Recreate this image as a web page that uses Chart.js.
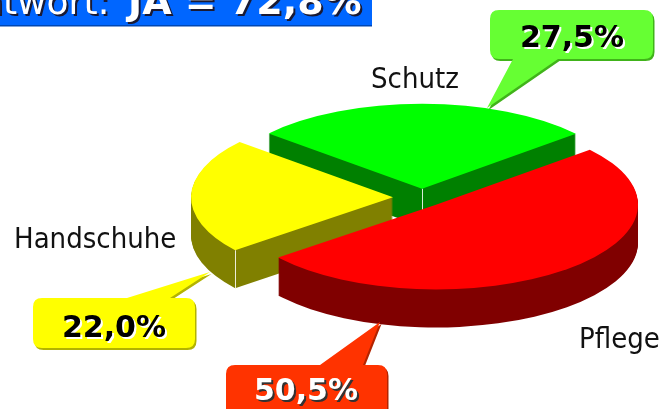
<!DOCTYPE html>
<html>
<head>
<meta charset="utf-8">
<script src="https://cdn.jsdelivr.net/npm/chart.js@4.4.1/dist/chart.umd.min.js"></script>
<style>
    html, body { margin: 0; padding: 0; background: #fff; }
    #pieChart { display: block; }
</style>
</head>
<body>
<canvas id="pieChart" width="667" height="409"></canvas>
<script>
var categories = ['Pflege', 'Handschuhe', 'Schutz'];
var percentages = [50.5, 22.0, 27.5];
var valueLabels = ['50,5%', '22,0%', '27,5%'];
var headline = ['Antwort:', 'JA = 72,8%'];

var topColors = ['#ff0000', '#ffff00', '#00ff00'];
var sideColors = ['#800000', '#808000', '#008000'];

// 3D look: slices are exploded, squashed vertically and given a dark wall
var pie3d = {
    id: 'pie3d',
    afterDatasetsUpdate: function(chart, args, opts) {
        chart.getDatasetMeta(0).data.forEach(function(arc, i) {
            var mid = (arc.startAngle + arc.endAngle) / 2;
            arc.x += Math.cos(mid) * opts.explode[i];
            arc.y += Math.sin(mid) * opts.explode[i];
        });
    },
    beforeDatasetsDraw: function(chart, args, opts) {
        var ctx = chart.ctx;
        var area = chart.chartArea;
        var cy = (area.top + area.bottom) / 2;
        var arcs = chart.getDatasetMeta(0).data;
        for (var d = opts.depth; d > 0; d--) {
            arcs.forEach(function(arc, i) {
                ctx.save();
                ctx.translate(0, cy + d);
                ctx.scale(1, opts.tilt);
                ctx.translate(0, -cy);
                ctx.beginPath();
                ctx.moveTo(arc.x, arc.y);
                ctx.arc(arc.x, arc.y, arc.outerRadius, arc.startAngle, arc.endAngle);
                ctx.closePath();
                ctx.fillStyle = sideColors[i];
                ctx.fill();
                ctx.restore();
            });
        }
        // thin light edges where two walls meet
        ctx.strokeStyle = 'rgba(255,255,255,0.85)';
        ctx.lineWidth = 1;
        opts.edges.forEach(function(e) {
            var arc = arcs[e[0]];
            var px = arc.x, py = arc.y;
            if (e[1] !== 'apex') {
                var a = e[1] === 'start' ? arc.startAngle : arc.endAngle;
                px += Math.cos(a) * arc.outerRadius;
                py += Math.sin(a) * arc.outerRadius;
            }
            var sy = cy + (py - cy) * opts.tilt;
            ctx.beginPath();
            ctx.moveTo(Math.round(px) + 0.5, sy);
            ctx.lineTo(Math.round(px) + 0.5, sy + opts.depth);
            ctx.stroke();
        });
        ctx.save();
        ctx.translate(0, cy);
        ctx.scale(1, opts.tilt);
        ctx.translate(0, -cy);
    },
    afterDatasetsDraw: function(chart) {
        chart.ctx.restore();
    }
};

function shadowText(ctx, text, x, y, color, shadow) {
    ctx.fillStyle = shadow;
    ctx.fillText(text, x + 2, y + 2);
    ctx.fillStyle = color;
    ctx.fillText(text, x, y);
}

function calloutPath(ctx, c) {
    var r = 9, x = c.box[0], y = c.box[1], w = c.box[2], h = c.box[3];
    ctx.beginPath();
    ctx.moveTo(x + r, y);
    if (c.side === 'top') {
        ctx.lineTo(c.base[0], y);
        ctx.lineTo(c.tip[0], c.tip[1]);
        ctx.lineTo(c.base[1], y);
    }
    ctx.lineTo(x + w - r, y);
    ctx.quadraticCurveTo(x + w, y, x + w, y + r);
    ctx.lineTo(x + w, y + h - r);
    ctx.quadraticCurveTo(x + w, y + h, x + w - r, y + h);
    if (c.side === 'bottom') {
        ctx.lineTo(c.base[1], y + h);
        ctx.lineTo(c.tip[0], c.tip[1]);
        ctx.lineTo(c.base[0], y + h);
    }
    ctx.lineTo(x + r, y + h);
    ctx.quadraticCurveTo(x, y + h, x, y + h - r);
    ctx.lineTo(x, y + r);
    ctx.quadraticCurveTo(x, y, x + r, y);
    ctx.closePath();
}

var annotations = {
    id: 'annotations',
    afterDraw: function(chart, args, opts) {
        var ctx = chart.ctx;
        ctx.save();

        // headline banner, cropped at the left like the slide
        ctx.fillStyle = '#0066ff';
        ctx.fillRect(0, 0, 372, 25);
        ctx.fillStyle = '#0047b3';
        ctx.fillRect(0, 25, 372, 1.5);
        ctx.textBaseline = 'alphabetic';
        ctx.textAlign = 'left';
        ctx.font = '36px "DejaVu Sans"';
        var cut = ctx.measureText('An').width;
        shadowText(ctx, headline[0], 3 - cut, 14, '#ffffff', '#1a1a33');
        ctx.font = 'bold 38px "DejaVu Sans"';
        shadowText(ctx, headline[1], 128, 14, '#ffffff', '#1a1a33');

        // category labels
        ctx.font = '29px "DejaVu Sans Condensed", "DejaVu Sans"';
        ctx.fillStyle = '#111111';
        opts.labels.forEach(function(l, i) {
            ctx.fillText(categories[i], l[0], l[1]);
        });

        // value callouts
        opts.callouts.forEach(function(c, i) {
            ctx.save();
            ctx.translate(1.5, 2);
            calloutPath(ctx, c);
            ctx.fillStyle = c.edge;
            ctx.fill();
            ctx.restore();
            calloutPath(ctx, c);
            ctx.fillStyle = c.fill;
            ctx.fill();
            ctx.font = 'bold 30px "DejaVu Sans"';
            ctx.textAlign = 'center';
            shadowText(ctx, valueLabels[i], c.text[0], c.text[1], c.ink, c.shade);
        });
        ctx.restore();
    }
};

var ctxPie = document.getElementById('pieChart').getContext('2d');
var pieChart = new Chart(ctxPie, {
    type: 'pie',
    data: {
        labels: categories,
        datasets: [{
            data: percentages,
            backgroundColor: topColors,
            borderWidth: 0,
            radius: 202
        }]
    },
    options: {
        responsive: false,
        devicePixelRatio: 1,
        animation: false,
        events: [],
        rotation: 49.6,
        layout: { padding: { left: 177, right: 0, top: 0, bottom: 14 } },
        plugins: {
            legend: { display: false },
            tooltip: { enabled: false },
            pie3d: { tilt: 0.42, depth: 38, explode: [22, 29, 21], edges: [[1, 'start'], [2, 'apex']] },
            annotations: {
                labels: [[579, 348], [14, 248], [371, 88]],
                callouts: [
                    { box: [226, 365, 161, 60], side: 'top', base: [320, 363], tip: [380, 322],
                      fill: '#ff3300', edge: '#b32400', text: [306, 400], ink: '#ffffff', shade: '#333333' },
                    { box: [33, 298, 162, 50], side: 'top', base: [127, 170], tip: [210, 272],
                      fill: '#ffff00', edge: '#b3b300', text: [114, 337], ink: '#000000', shade: '#ffffff' },
                    { box: [490, 10, 163, 49], side: 'bottom', base: [513, 558], tip: [487, 108],
                      fill: '#66ff33', edge: '#40b31a', text: [572, 47], ink: '#000000', shade: '#ffffff' }
                ]
            }
        }
    },
    plugins: [pie3d, annotations]
});
</script>
</body>
</html>
